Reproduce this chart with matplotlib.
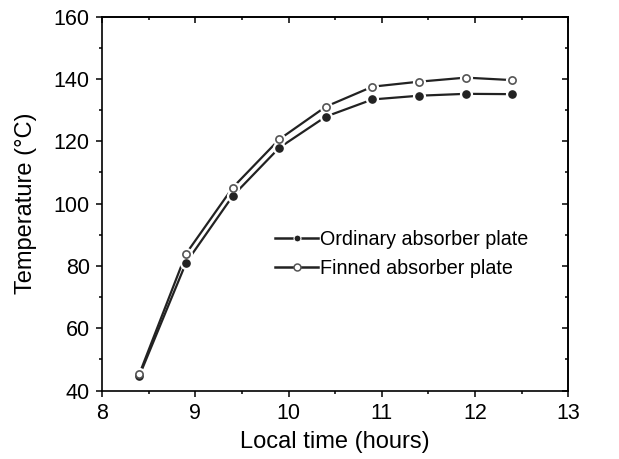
import numpy as np
import matplotlib.pyplot as plt
from matplotlib.ticker import MultipleLocator

plt.rcParams['font.family'] = ['Liberation Sans', 'DejaVu Sans']

## data
time_h = [8.4, 8.9, 9.4, 9.9, 10.4, 10.9, 11.4, 11.9, 12.4]
ordinary = [44.8, 81.0, 102.4, 117.9, 127.9, 133.4, 134.6, 135.2, 135.1]
finned = [45.4, 83.9, 105.1, 120.6, 131.1, 137.5, 139.1, 140.4, 139.6]

## plot
fig = plt.figure(figsize=(6.19, 4.59), dpi=100)
ax = fig.add_axes([0.165, 0.149, 0.753, 0.815])

lc = "#222222"
# white halos give the small gaps around the markers
ax.plot(time_h, ordinary, "-", color=lc, lw=1.6, zorder=2)
ax.plot(time_h, finned, "-", color=lc, lw=1.6, zorder=2)
ax.plot(time_h, ordinary, "o", color="white", ms=8.5, zorder=3)
ax.plot(time_h, finned, "o", color="white", ms=8.5, zorder=3)

ax.plot(time_h, ordinary, "o", color=lc, ms=5.2, zorder=4)
ax.plot(time_h, finned, "o", mfc="white", mec="#555555", mew=1.2, ms=5.2, zorder=4)

# legend handles
h1, = ax.plot([], [], "-o", color=lc, lw=1.8, ms=5, mec="white", mew=0.8)
h2, = ax.plot([], [], "-o", color=lc, lw=1.8, ms=5, mfc="white", mec="#555555", mew=1.1)
ax.legend([h1, h2], ["Ordinary absorber plate", "Finned absorber plate"],
          loc="center left", bbox_to_anchor=(0.333, 0.365), frameon=False,
          fontsize=14.2, handlelength=2.2, handletextpad=0.1, labelspacing=0.5)

ax.set_xlim(8, 13)
ax.set_ylim(40, 160)
ax.xaxis.set_major_locator(MultipleLocator(1))
ax.xaxis.set_minor_locator(MultipleLocator(0.5))
ax.yaxis.set_major_locator(MultipleLocator(20))
ax.yaxis.set_minor_locator(MultipleLocator(10))
# bottom/left ticks point out
ax.tick_params(which="both", direction="out", width=1.1)
ax.tick_params(which="major", length=4.5, labelsize=15.5, pad=4.5)
ax.tick_params(which="minor", length=2.2)

# top/right ticks point in
top = ax.secondary_xaxis("top")
top.xaxis.set_major_locator(MultipleLocator(1))
top.xaxis.set_minor_locator(MultipleLocator(0.5))
top.tick_params(which="both", direction="in", width=1.1, labeltop=False)
top.tick_params(which="major", length=4.5)
top.tick_params(which="minor", length=2.2)
right = ax.secondary_yaxis("right")
right.yaxis.set_major_locator(MultipleLocator(20))
right.yaxis.set_minor_locator(MultipleLocator(10))
right.tick_params(which="both", direction="in", width=1.1, labelright=False)
right.tick_params(which="major", length=4.5)
right.tick_params(which="minor", length=2.2)

for s in list(ax.spines.values()) + [top.spines["top"], right.spines["right"]]:
    s.set_linewidth(1.2)

ax.set_xlabel("Local time (hours)", fontsize=17, labelpad=5)
ax.set_ylabel("Temperature (°C)", fontsize=17, labelpad=12)

plt.savefig("out.png", dpi=100)
